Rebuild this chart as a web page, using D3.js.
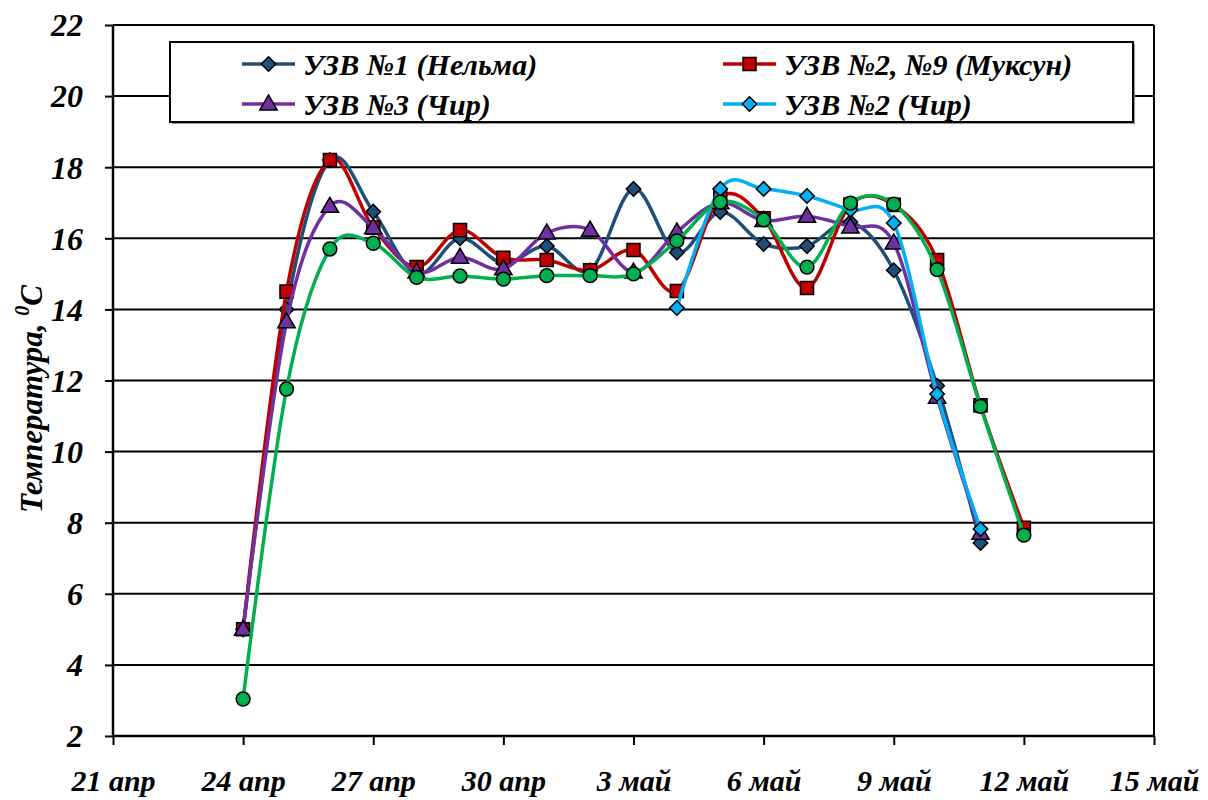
<!DOCTYPE html>
<html>
<head>
<meta charset="utf-8">
<script src="https://cdn.jsdelivr.net/npm/d3@7"></script>
<style>
  html, body { margin: 0; padding: 0; background: #fff; }
  svg { display: block; }
  text { font-family: "Liberation Serif", "Times New Roman", serif; font-weight: bold; font-style: italic; fill: #000; }
</style>
</head>
<body>
<svg id="chart" width="1208" height="800"></svg>
<script>
// Measurement dates (one reading per day)
const dates = ["2012-04-24","2012-04-25","2012-04-26","2012-04-27","2012-04-28","2012-04-29","2012-04-30",
  "2012-05-01","2012-05-02","2012-05-03","2012-05-04","2012-05-05","2012-05-06","2012-05-07",
  "2012-05-08","2012-05-09","2012-05-10","2012-05-11","2012-05-12"];

// Water temperature, °C
const nelma1   = [5.0, 14.0, 18.2, 16.75, 15.0, 16.0, 15.3, 15.78, 15.1, 17.39, 15.6, 16.74, 15.84, 15.78, 16.46, 15.1, 11.85, 7.43, null];
const muksun29 = [5.0, 14.5, 18.2, 16.3, 15.19, 16.23, 15.45, 15.39, 15.1, 15.67, 14.52, 17.15, 16.56, 14.6, 16.95, 16.94, 15.39, 11.3, 7.86];
const chir3    = [5.0, 13.65, 16.9, 16.3, 15.05, 15.47, 15.14, 16.15, 16.23, 15.05, 16.18, 17.0, 16.5, 16.62, 16.32, 15.87, 11.53, 7.7, null];
const chir2    = [null, null, null, null, null, null, null, null, null, null, 14.04, 17.39, 17.39, 17.19, 16.8, 16.43, 11.62, 7.82, null];
const extra    = [3.04, 11.76, 15.7, 15.86, 14.9, 14.94, 14.85, 14.95, 14.95, 15.0, 15.93, 17.02, 16.52, 15.19, 16.99, 16.96, 15.12, 11.27, 7.65];

const seriesNames  = ["УЗВ №1 (Нельма)", "УЗВ №2, №9 (Муксун)", "УЗВ №3 (Чир)", "УЗВ №2 (Чир)"];
const seriesColors = ["#1F4E79", "#C00000", "#7030A0", "#00B0F0", "#00B050"];
const seriesMarkers = ["diamond", "square", "triangle", "diamond", "circle"];
const seriesValues = [nelma1, muksun29, chir3, chir2, extra];

const xTickDates  = ["2012-04-21","2012-04-24","2012-04-27","2012-04-30","2012-05-03","2012-05-06","2012-05-09","2012-05-12","2012-05-15"];
const xTickLabels = ["21 апр","24 апр","27 апр","30 апр","3 май","6 май","9 май","12 май","15 май"];
const yTicks = [2, 4, 6, 8, 10, 12, 14, 16, 18, 20, 22];

const parse = d3.utcParse("%Y-%m-%d");
const svg = d3.select("#chart");

const x = d3.scaleUtc()
  .domain([parse(xTickDates[0]), parse(xTickDates[xTickDates.length - 1])])
  .range([113, 1154]);
const y = d3.scaleLinear().domain([2, 22]).range([736, 25]);

// Horizontal grid lines
svg.append("g").selectAll("line").data(yTicks).join("line")
  .attr("x1", x.range()[0]).attr("x2", x.range()[1])
  .attr("y1", d => y(d)).attr("y2", d => y(d))
  .attr("stroke", "#000").attr("stroke-width", 2);

// Right border of the plot area
svg.append("line")
  .attr("x1", x.range()[1]).attr("x2", x.range()[1])
  .attr("y1", y(22)).attr("y2", y(2))
  .attr("stroke", "#000").attr("stroke-width", 2);

// Y axis
const yAxis = d3.axisLeft(y).tickValues(yTicks).tickSize(8).tickFormat(d3.format("d"));
const gy = svg.append("g").attr("transform", `translate(${x.range()[0]},0)`).call(yAxis);
gy.select(".domain").attr("stroke", "#000").attr("stroke-width", 2.5).attr("d", `M0,${y(22)}V${y(2)}`);
gy.selectAll(".tick line").attr("stroke", "#000").attr("stroke-width", 2);
gy.selectAll(".tick text")
  .attr("x", -30).attr("dy", "0.34em")
  .style("font-family", "'Liberation Serif', serif")
  .style("font-weight", "bold").style("font-style", "italic")
  .style("font-size", "32px").attr("fill", "#000");

// X axis
const xAxis = d3.axisBottom(x)
  .tickValues(xTickDates.map(parse))
  .tickSize(9)
  .tickFormat((d, i) => xTickLabels[i]);
const gx = svg.append("g").attr("transform", `translate(0,${y(2)})`).call(xAxis);
gx.select(".domain").attr("stroke", "#000").attr("stroke-width", 2.5).attr("d", `M${x.range()[0]},0H${x.range()[1]}`);
gx.selectAll(".tick line").attr("stroke", "#000").attr("stroke-width", 2);
gx.selectAll(".tick text")
  .attr("y", 55).attr("dy", 0)
  .style("font-family", "'Liberation Serif', serif")
  .style("font-weight", "bold").style("font-style", "italic")
  .style("font-size", "30px").attr("fill", "#000");

// Y axis title
const yTitle = svg.append("text")
  .attr("transform", "translate(42,399) rotate(-90)")
  .attr("text-anchor", "middle")
  .style("font-size", "31px");
yTitle.append("tspan").text("Температура, ");
yTitle.append("tspan").attr("dy", -13).style("font-size", "20px").text("0");
yTitle.append("tspan").attr("dy", 13).text("C");

// Marker symbols
function markerPath(type) {
  const sizes = { square: 170, triangle: 130, circle: 150 };
  const types = { square: d3.symbolSquare, triangle: d3.symbolTriangle, circle: d3.symbolCircle };
  if (type === "diamond") return d3.symbol(d3.symbolSquare, 105)();
  return d3.symbol(types[type], sizes[type])();
}
function markerTransform(type, px, py) {
  if (type === "diamond") return `translate(${px},${py}) rotate(45)`;
  if (type === "triangle") return `translate(${px},${py + 1})`;
  return `translate(${px},${py})`;
}

const line = d3.line()
  .defined(d => d.v != null)
  .x(d => x(d.date))
  .y(d => y(d.v))
  .curve(d3.curveCardinal.tension(0));

seriesValues.forEach((vals, si) => {
  const pts = vals.map((v, i) => ({ date: parse(dates[i]), v }));
  const g = svg.append("g");
  g.append("path")
    .attr("d", line(pts))
    .attr("fill", "none")
    .attr("stroke", seriesColors[si])
    .attr("stroke-width", 3.5)
    .attr("stroke-linejoin", "round");
  g.selectAll("path.m").data(pts.filter(d => d.v != null)).join("path")
    .attr("class", "m")
    .attr("d", markerPath(seriesMarkers[si]))
    .attr("transform", d => markerTransform(seriesMarkers[si], x(d.date), y(d.v)))
    .attr("fill", seriesColors[si])
    .attr("stroke", "#000")
    .attr("stroke-width", 1.5);
});

// Legend
const legend = svg.append("g");
legend.append("rect")
  .attr("x", 172).attr("y", 44).attr("width", 963).attr("height", 80)
  .attr("fill", "#999");
legend.append("rect")
  .attr("x", 170).attr("y", 42).attr("width", 963).attr("height", 80)
  .attr("fill", "#fff").attr("stroke", "#000").attr("stroke-width", 2);

const legendPos = [
  { lx: 242, ty: 64 },
  { lx: 723, ty: 64 },
  { lx: 242, ty: 104 },
  { lx: 723, ty: 104 }
];
seriesNames.forEach((name, i) => {
  const p = legendPos[i];
  const m = seriesMarkers[i];
  legend.append("line")
    .attr("x1", p.lx).attr("x2", p.lx + 53)
    .attr("y1", p.ty).attr("y2", p.ty)
    .attr("stroke", seriesColors[i]).attr("stroke-width", 3.5);
  legend.append("path")
    .attr("d", markerPath(m))
    .attr("transform", markerTransform(m, p.lx + 26.5, p.ty))
    .attr("fill", seriesColors[i]).attr("stroke", "#000").attr("stroke-width", 1.5);
  legend.append("text")
    .attr("x", p.lx + 61).attr("y", p.ty).attr("dy", "0.35em")
    .style("font-size", "30px")
    .text(name);
});
</script>
</body>
</html>
